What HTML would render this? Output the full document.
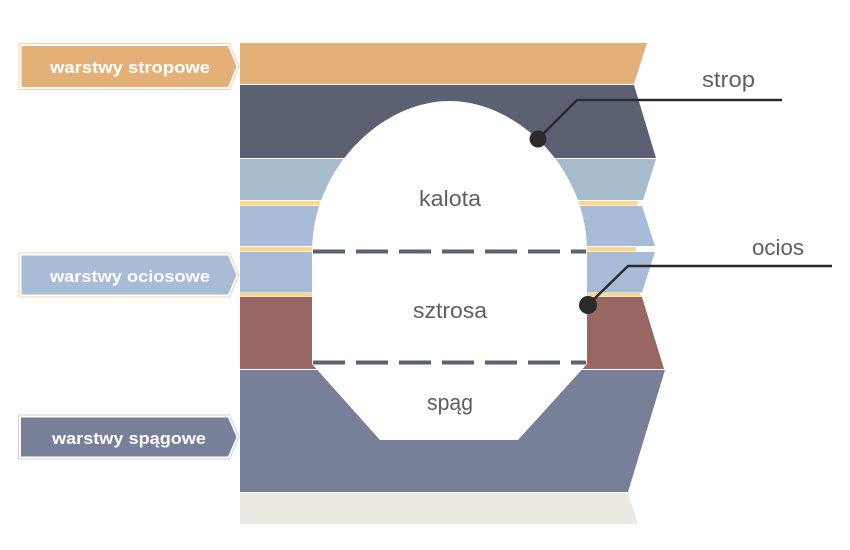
<!DOCTYPE html>
<html>
<head>
<meta charset="utf-8">
<style>
  html, body { margin: 0; padding: 0; background: #ffffff; }
  body { width: 850px; height: 550px; overflow: hidden; }
  svg { display: block; }
  .lbl { font-family: "Liberation Sans", sans-serif; font-weight: bold; font-size: 17px; fill: #ffffff; }
  .ctr { font-family: "Liberation Sans", sans-serif; font-size: 22px; fill: #5f5f5f; }
</style>
</head>
<body>
<svg width="850" height="550" viewBox="0 0 850 550" xmlns="http://www.w3.org/2000/svg">
  <!-- layers -->
  <polygon points="240,43 647,43 634,84 240,84" fill="#e4b077"/>
  <polygon points="240,85 634,85 656,158 240,158" fill="#5b6170"/>
  <polygon points="240,159 656,159 643,200 240,200" fill="#a6bccd"/>
  <polygon points="240,201 638,201 637,205.5 240,205.5" fill="#fdd78b"/>
  <polygon points="240,206 642,206 655,246 240,246" fill="#a8bcd8"/>
  <polygon points="240,247 636,247 636,251.5 240,251.5" fill="#fdd78b"/>
  <polygon points="240,252 655,252 642,292.5 240,292.5" fill="#a8bcd8"/>
  <polygon points="240,293 640,293 641,296.5 240,296.5" fill="#fdd78b"/>
  <polygon points="240,297 642,297 664,369 240,369" fill="#986663"/>
  <polygon points="240,370 665,370 628,492 240,492" fill="#778098"/>
  <polygon points="240,493 628,493 638,524 240,524" fill="#ece9e1"/>

  <!-- opening -->
  <path d="M312,252 C312,168 382,101 449.5,101 C517,101 587,168 587,252 L587,364 L518,440 L380,440 L312,364 Z" fill="#ffffff"/>

  <!-- dashed lines -->
  <line x1="313" y1="251.5" x2="586" y2="251.5" stroke="#5b6170" stroke-width="4" stroke-dasharray="32,11"/>
  <line x1="313" y1="362.5" x2="586" y2="362.5" stroke="#5b6170" stroke-width="4" stroke-dasharray="32,11"/>

  <!-- center labels -->
  <text class="ctr" x="450" y="206" text-anchor="middle" textLength="62" lengthAdjust="spacingAndGlyphs">kalota</text>
  <text class="ctr" x="450" y="318" text-anchor="middle" textLength="74" lengthAdjust="spacingAndGlyphs">sztrosa</text>
  <text class="ctr" x="450" y="410" text-anchor="middle" textLength="46" lengthAdjust="spacingAndGlyphs">spąg</text>

  <!-- callouts -->
  <polyline points="538,139 577,100 782,100" fill="none" stroke="#2b2b2b" stroke-width="2.5"/>
  <circle cx="538" cy="139" r="8.5" fill="#2b2b2b"/>
  <text class="ctr" x="702" y="87" textLength="53" lengthAdjust="spacingAndGlyphs">strop</text>

  <polyline points="588,305 628,266 832,266" fill="none" stroke="#2b2b2b" stroke-width="2.5"/>
  <circle cx="588" cy="305" r="9" fill="#2b2b2b"/>
  <text class="ctr" x="752" y="255" textLength="52" lengthAdjust="spacingAndGlyphs">ocios</text>

  <!-- left labels -->
  <polygon points="19,43.5 229.5,43.5 239,66.5 229.5,89.5 19,89.5" fill="none" stroke="#f3d3ad" stroke-width="1"/>
  <polygon points="21.5,46 228,46 236.5,66.5 228,87 21.5,87" fill="#e4b077"/>
  <text class="lbl" x="50" y="73" textLength="160" lengthAdjust="spacingAndGlyphs">warstwy stropowe</text>

  <polygon points="19,253 229.5,253 239,275 229.5,297 19,297" fill="none" stroke="#f3d3ad" stroke-width="1"/>
  <polygon points="21.5,255.5 228,255.5 236.5,275 228,294.5 21.5,294.5" fill="#a8bcd8"/>
  <text class="lbl" x="50" y="282" textLength="160" lengthAdjust="spacingAndGlyphs">warstwy ociosowe</text>

  <polygon points="18.5,415 229.5,415 239,437 229.5,459 18.5,459" fill="none" stroke="#cfd2db" stroke-width="1"/>
  <polygon points="21,417.5 228,417.5 236.5,437 228,456.5 21,456.5" fill="#778098"/>
  <text class="lbl" x="52" y="444" textLength="154" lengthAdjust="spacingAndGlyphs">warstwy spągowe</text>
</svg>
</body>
</html>
